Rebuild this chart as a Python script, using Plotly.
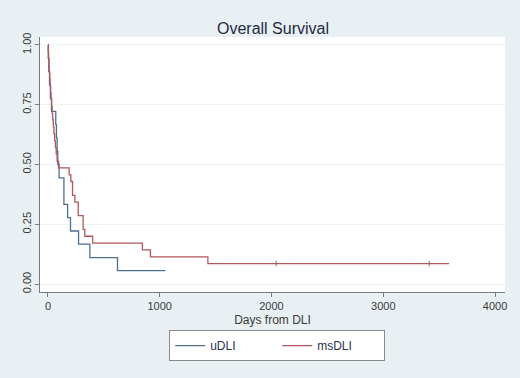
import plotly.graph_objects as go

# uDLI (n=18) Kaplan-Meier estimate
udli_days = [0, 3, 8, 14, 22, 32, 70, 76, 82, 88, 100, 143, 176, 202, 274, 375, 622, 1051]
udli_surv = [1.0, 0.944, 0.889, 0.833, 0.778, 0.722, 0.667, 0.611, 0.556, 0.5,
             0.444, 0.333, 0.278, 0.222, 0.167, 0.111, 0.056, 0.056]

# msDLI (n=35) Kaplan-Meier estimate
ms_days = [0, 3, 6, 9, 12, 16, 20, 24, 28, 33, 38, 43, 48, 54, 60, 67, 74, 82, 95,
           190, 205, 220, 241, 271, 315, 330, 400, 845, 917, 1431, 3589]
ms_surv = [1.0, 0.971, 0.943, 0.914, 0.886, 0.857, 0.829, 0.8, 0.771, 0.743, 0.714,
           0.686, 0.657, 0.629, 0.6, 0.571, 0.543, 0.514, 0.486,
           0.457, 0.429, 0.371, 0.343, 0.286, 0.229, 0.2, 0.171, 0.143, 0.114, 0.086, 0.086]

# censoring marks
ms_cens_days = [2042, 3411]
ms_cens_surv = [0.086, 0.086]

y_ticks = [0, 0.25, 0.5, 0.75, 1.0]
x_ticks = [0, 1000, 2000, 3000, 4000]

BLUE = "#4f6f91"
RED = "#b0585a"

fig = go.Figure()
fig.add_trace(go.Scatter(x=udli_days, y=udli_surv, mode="lines", line_shape="hv",
                         line=dict(color=BLUE, width=1.3), name="uDLI"))
fig.add_trace(go.Scatter(x=ms_days, y=ms_surv, mode="lines", line_shape="hv",
                         line=dict(color=RED, width=1.3), name="msDLI"))
fig.add_trace(go.Scatter(x=ms_cens_days, y=ms_cens_surv, mode="markers",
                         marker=dict(symbol="line-ns", size=4, line=dict(color=RED, width=1)),
                         showlegend=False, hoverinfo="skip"))

fig.update_layout(
    width=520, height=378,
    margin=dict(l=40, r=15, t=37, b=86, autoexpand=False),
    paper_bgcolor="#e9f0f3",
    plot_bgcolor="#ffffff",
    font=dict(family="Liberation Sans, Arial, sans-serif", color="#333333"),
    title=dict(text="Overall Survival", x=0.525, xanchor="center", y=1 - 28 / 378, yanchor="middle",
               font=dict(size=16, color="#1f2a44")),
    legend=dict(orientation="h", x=0.51, xanchor="center", y=-0.21, yanchor="middle",
                bgcolor="#ffffff", bordercolor="#8a8a8a", borderwidth=1,
                font=dict(size=12, color="#2a3350"), entrywidth=62, itemwidth=30),
    showlegend=True,
)
fig.update_xaxes(range=[-71, 4089], tickvals=x_ticks, tickformat="d", automargin=False,
                 showgrid=False, zeroline=False,
                 showline=True, linecolor="#6f7f8c", linewidth=1,
                 ticks="outside", ticklen=4, tickcolor="#6f7f8c",
                 tickfont=dict(size=11, color="#3a3a3a"),
                 title=dict(text="Days from DLI", font=dict(size=12, color="#3a3a3a"), standoff=4))
fig.update_yaxes(range=[-0.033, 1.033], tickvals=y_ticks, tickformat=".2f", automargin=False,
                 tickangle=-90, showgrid=True, gridcolor="#edf3f5", gridwidth=1, zeroline=False,
                 showline=True, linecolor="#6f7f8c", linewidth=1,
                 ticks="outside", ticklen=4, tickcolor="#6f7f8c",
                 tickfont=dict(size=11, color="#3a3a3a"))

fig.write_html("out.html", config={"displayModeBar": False},
               post_script="document.body.style.margin='0';")
